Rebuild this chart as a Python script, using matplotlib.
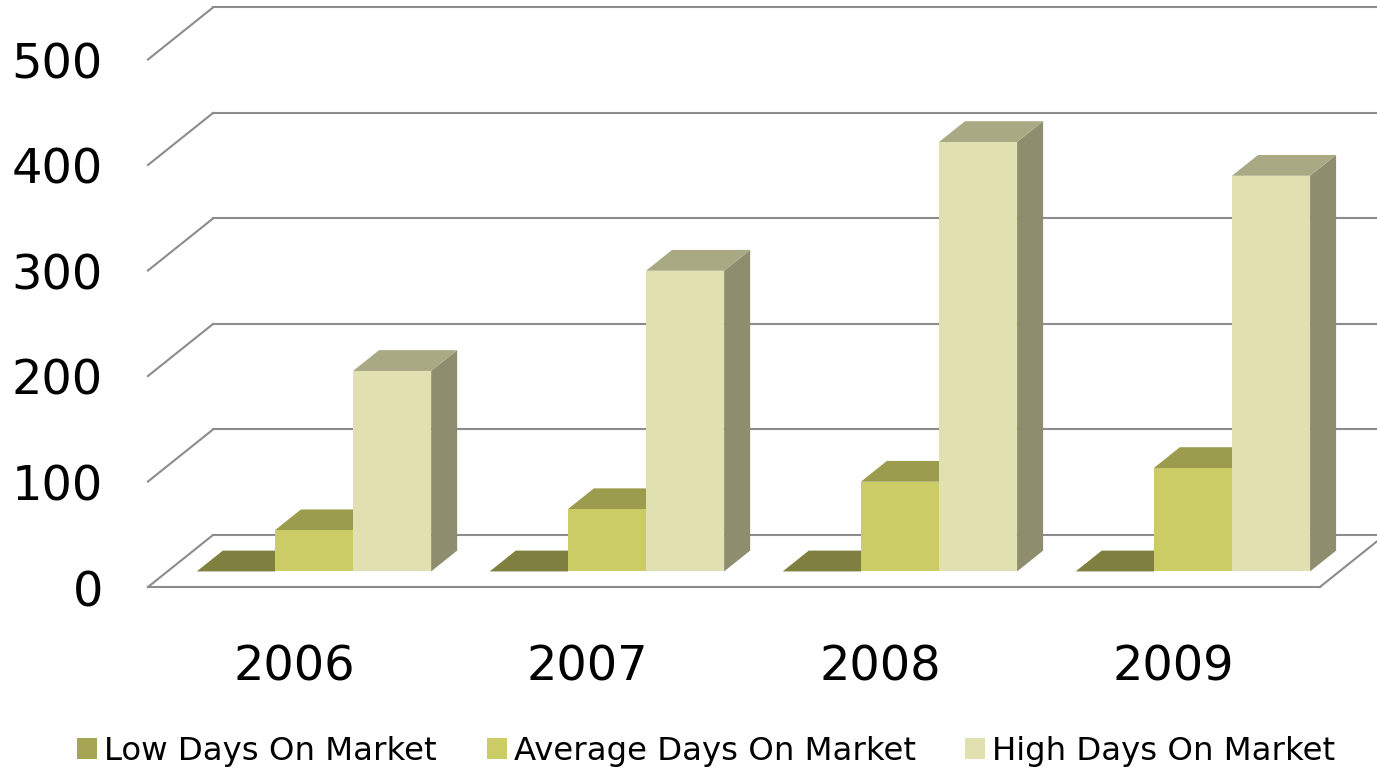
import matplotlib.pyplot as plt
from matplotlib.patches import Polygon, Patch

years = ['2006', '2007', '2008', '2009']
low_days = [0, 0, 0, 0]
avg_days = [39, 59, 85, 98]
high_days = [190, 285, 407, 375]
series_names = ['Low Days On Market', 'Average Days On Market', 'High Days On Market']
ticks = [0, 100, 200, 300, 400, 500]

# front / top / side shades for each series
front_cols = ['#a5a553', '#cccc66', '#e1e0b0']
top_cols = ['#7f7f40', '#9c9c4e', '#a9a984']
side_cols = ['#6a6a36', '#85854a', '#8e8e6e']
grid_col = '#8c8c8c'

# oblique depth of the floor, in data units (x: categories, y: days)
DX = 0.222
DY = 49.3
bar_w = 0.8 / 3

fig = plt.figure(figsize=(13.77, 7.67), dpi=100)
ax = fig.add_axes([0, 0, 1, 1])
ax.set_xlim(-0.505, 4.195)
ax.set_ylim(-170.6, 556.4)
ax.axis('off')

n = len(years)

# walls / grid
for v in ticks:
    ax.plot([DX, n + DX], [v + DY, v + DY], color=grid_col, lw=1.5, zorder=1)
    ax.plot([0, DX], [v, v + DY], color=grid_col, lw=1.5, zorder=1)
    ax.text(-0.154, v - 18, str(v), ha='right', va='baseline', fontsize=34.5)
ax.plot([0, n], [0, 0], color=grid_col, lw=1.5, zorder=1)
ax.plot([n, n + DX], [0, DY], color=grid_col, lw=1.5, zorder=1)

# bars
data = [low_days, avg_days, high_days]
z = 2
for i in range(n):
    for j, vals in enumerate(data):
        v = vals[i]
        x0 = i + 0.1 + j * bar_w + 0.3 * DX
        yb = 0.3 * DY
        yt = yb + v
        ddx, ddy = 0.4 * DX, 0.4 * DY
        front = Polygon([(x0, yb), (x0 + bar_w, yb), (x0 + bar_w, yt), (x0, yt)],
                        closed=True, fc=front_cols[j], ec='none', zorder=z)
        top = Polygon([(x0, yt), (x0 + bar_w, yt), (x0 + bar_w + ddx, yt + ddy), (x0 + ddx, yt + ddy)],
                      closed=True, fc=top_cols[j], ec='none', zorder=z)
        side = Polygon([(x0 + bar_w, yb), (x0 + bar_w + ddx, yb + ddy),
                        (x0 + bar_w + ddx, yt + ddy), (x0 + bar_w, yt)],
                       closed=True, fc=side_cols[j], ec='none', zorder=z)
        ax.add_patch(side)
        ax.add_patch(top)
        ax.add_patch(front)
        z += 1
    ax.text(i + 0.5, -89, years[i], ha='center', va='baseline', fontsize=34.5)

handles = [Patch(fc=c, ec='none') for c in front_cols]
fig.legend(handles, series_names, loc='center', bbox_to_anchor=(0.513, 0.02),
           ncol=3, frameon=False, fontsize=23.3, handlelength=0.62, handleheight=0.62,
           handletextpad=0.22, columnspacing=1.53, borderpad=0)

fig.savefig('out.png', dpi=100)
